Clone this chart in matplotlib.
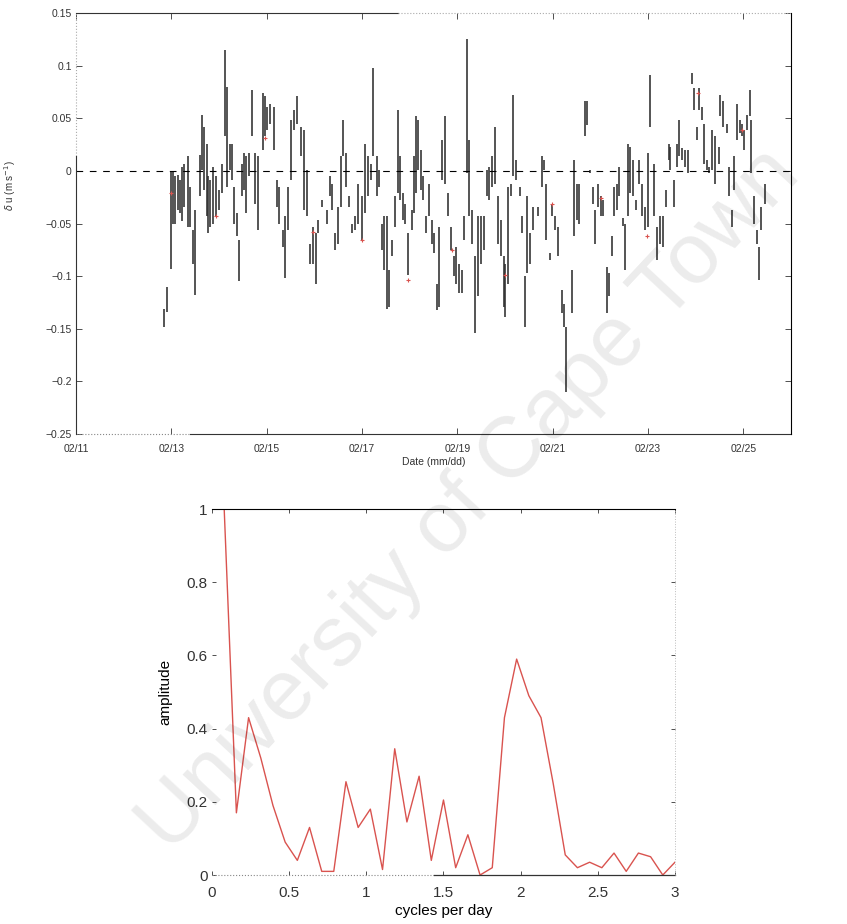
import matplotlib
matplotlib.use("Agg")
import matplotlib.pyplot as plt
import numpy as np

plt.rcParams['font.family'] = ['Liberation Sans', 'DejaVu Sans']

# --- current anomaly bursts: time (day of February), low and high of each burst (m/s)
burst_day = [12.85, 12.90, 12.99, 13.03, 13.08, 13.13, 13.18, 13.23, 13.27, 13.34,
             13.39, 13.45, 13.50, 13.60, 13.65, 13.69, 13.74, 13.78, 13.82, 13.88,
             13.94, 14.00, 14.06, 14.12, 14.17, 14.23, 14.27, 14.31, 14.37, 14.42,
             14.48, 14.52, 14.57, 14.62, 14.69, 14.75, 14.82, 14.92, 14.96, 15.01,
             15.07, 15.15, 15.21, 15.26, 15.34, 15.38, 15.44, 15.52, 15.58, 15.64,
             15.73, 15.78, 15.84, 15.91, 15.98, 16.03, 16.08, 16.17, 16.26, 16.33,
             16.38, 16.43, 16.50, 16.56, 16.61, 16.66, 16.72, 16.78, 16.85, 16.92,
             16.99, 17.06, 17.13, 17.18,
             17.24, 17.31, 17.36, 17.41, 17.47, 17.52, 17.57, 17.64, 17.69, 17.75,
             17.80, 17.85, 17.90, 17.97, 18.04, 18.10, 18.13, 18.18, 18.24, 18.29,
             18.34, 18.41, 18.46, 18.52, 18.57, 18.62, 18.67, 18.74, 18.81, 18.87,
             18.92, 18.97, 19.04, 19.09, 19.15, 19.20, 19.24, 19.30, 19.37, 19.44,
             19.50, 19.55, 19.62, 19.67, 19.72, 19.78, 19.86, 19.91, 19.97, 20.01,
             20.07, 20.12, 20.17, 20.24, 20.31, 20.36, 20.42, 20.47, 20.52, 20.59,
             20.69, 20.77, 20.82, 20.87, 20.94, 20.99, 21.05, 21.11, 21.19, 21.24,
             21.29, 21.40, 21.45, 21.50, 21.55,
             21.68, 21.73, 21.78, 21.85, 21.89, 21.96, 22.01, 22.06, 22.13, 22.19,
             22.24, 22.29, 22.34, 22.40, 22.47, 22.52, 22.57, 22.62, 22.68, 22.75,
             22.82, 22.87, 22.94, 23.01, 23.04, 23.13, 23.18, 23.25, 23.31, 23.37,
             23.43, 23.46, 23.55, 23.60, 23.65, 23.71, 23.78, 23.83, 23.93, 23.97,
             24.02, 24.07, 24.13, 24.17, 24.23, 24.29, 24.34, 24.41, 24.48, 24.52,
             24.58, 24.65, 24.70, 24.76, 24.81, 24.86, 24.92, 24.97, 25.01, 25.07,
             25.13, 25.17, 25.22, 25.28, 25.33, 25.38, 25.45]

burst_hi = [-0.131, -0.110, -0.001, -0.001, -0.005, -0.004, -0.009, 0.004, 0.007, 0.014,
            -0.015, -0.056, -0.037, 0.015, 0.053, 0.042, 0.026, -0.005, -0.009, 0.004,
            -0.005, -0.018, 0.007, 0.115, 0.080, 0.026, 0.026, -0.015, -0.040, -0.066,
            0.007, 0.017, 0.014, 0.017, 0.077, 0.017, 0.014, 0.074, 0.071, 0.061,
            0.064, 0.061, -0.009, -0.015, -0.056, -0.043, -0.015, 0.048, 0.058, 0.071,
            0.042, 0.039, 0.001, -0.069, -0.053, -0.059, -0.047, -0.028, -0.037, -0.005,
            -0.012, -0.059, -0.034, 0.014, 0.048, 0.017, -0.024, -0.050, -0.043, -0.012,
            -0.024, 0.026, 0.014, 0.007,
            0.098, 0.014, 0.001, -0.050, -0.043, -0.043, -0.094, -0.066, -0.024, 0.058,
            0.014, -0.021, -0.031, -0.059, -0.037, 0.014, 0.052, 0.048, 0.020, -0.005,
            -0.043, -0.012, -0.047, -0.059, -0.107, -0.053, 0.029, 0.052, -0.021, -0.053,
            -0.081, -0.072, -0.088, -0.094, -0.043, 0.125, 0.029, -0.037, -0.081, -0.043,
            -0.043, -0.043, 0.001, 0.004, 0.014, 0.042, -0.024, -0.047, -0.081, -0.088,
            -0.015, -0.012, 0.072, 0.010, -0.015, -0.043, -0.100, -0.024, -0.059, -0.034,
            -0.034, 0.014, 0.010, -0.012, -0.078, -0.031, -0.043, -0.053, -0.113, -0.126,
            -0.148, -0.094, 0.010, -0.012, -0.012,
            0.066, 0.066, 0.001, -0.015, -0.037, -0.012, -0.024, -0.028, -0.091, -0.097,
            -0.062, -0.015, -0.012, 0.004, -0.045, -0.050, 0.026, 0.023, 0.010, -0.028,
            0.010, -0.012, -0.034, 0.017, 0.091, 0.007, -0.053, -0.043, -0.043, -0.018,
            0.026, 0.023, -0.009, 0.026, 0.048, 0.022, 0.020, 0.020, 0.093, 0.079,
            0.042, 0.079, 0.061, 0.045, 0.010, 0.004, 0.039, 0.033, 0.023, 0.072,
            0.066, 0.045, 0.004, -0.037, 0.014, 0.064, 0.048, 0.045, 0.039, 0.053,
            0.077, 0.048, -0.024, -0.056, -0.072, -0.034, -0.012]

burst_lo = [-0.148, -0.134, -0.093, -0.050, -0.050, -0.037, -0.040, -0.048, -0.034, -0.053,
            -0.053, -0.088, -0.118, -0.024, 0.001, -0.018, -0.043, -0.059, -0.053, -0.050,
            -0.043, -0.037, -0.021, 0.033, -0.015, 0.001, -0.009, -0.050, -0.062, -0.105,
            -0.024, -0.018, -0.040, -0.005, 0.033, -0.031, -0.056, 0.020, 0.033, 0.039,
            0.045, 0.020, -0.034, -0.050, -0.072, -0.102, -0.056, -0.009, 0.039, 0.045,
            0.014, -0.037, -0.043, -0.088, -0.088, -0.107, -0.059, -0.034, -0.050, -0.024,
            -0.037, -0.075, -0.069, -0.034, 0.014, -0.015, -0.034, -0.059, -0.056, -0.050,
            -0.066, -0.040, -0.024, -0.009,
            0.014, -0.024, -0.015, -0.075, -0.094, -0.131, -0.129, -0.081, -0.053, -0.021,
            -0.028, -0.047, -0.050, -0.099, -0.056, -0.040, -0.021, 0.001, -0.018, -0.028,
            -0.059, -0.043, -0.069, -0.078, -0.132, -0.129, -0.009, -0.012, -0.043, -0.075,
            -0.100, -0.107, -0.116, -0.116, -0.066, -0.002, -0.043, -0.069, -0.154, -0.119,
            -0.088, -0.075, -0.024, -0.028, -0.015, -0.012, -0.069, -0.081, -0.129, -0.139,
            -0.107, -0.024, -0.005, -0.009, -0.024, -0.059, -0.148, -0.097, -0.088, -0.056,
            -0.043, -0.015, 0.001, -0.066, -0.085, -0.043, -0.056, -0.081, -0.135, -0.148,
            -0.210, -0.135, -0.062, -0.047, -0.050,
            0.033, 0.044, -0.002, -0.031, -0.069, -0.034, -0.043, -0.043, -0.135, -0.119,
            -0.081, -0.043, -0.037, -0.024, -0.052, -0.094, -0.043, -0.021, -0.024, -0.037,
            -0.012, -0.043, -0.056, -0.053, 0.042, -0.043, -0.085, -0.069, -0.072, -0.034,
            0.010, 0.001, -0.034, 0.004, 0.014, 0.010, 0.004, -0.002, 0.083, 0.058,
            0.029, 0.058, 0.048, 0.007, 0.001, -0.002, 0.001, -0.012, 0.007, 0.052,
            0.042, 0.036, -0.024, -0.053, -0.018, 0.029, 0.036, 0.033, 0.020, 0.039,
            0.052, -0.002, -0.050, -0.069, -0.104, -0.056, -0.031]

# daily mean values (red marks)
daily_day = [12.99, 13.94, 14.97, 15.98, 16.99, 17.97, 18.88, 20.00, 20.98,
             22.01, 22.97, 24.04, 24.97]
daily_val = [-0.021, -0.043, 0.031, -0.058, -0.066, -0.104, -0.075, -0.099, -0.031,
             -0.026, -0.062, 0.074, 0.039]

date_ticks = [11, 13, 15, 17, 19, 21, 23, 25]
date_labels = ['02/11', '02/13', '02/15', '02/17', '02/19', '02/21', '02/23', '02/25']
du_ticks = [-0.25, -0.2, -0.15, -0.1, -0.05, 0, 0.05, 0.1, 0.15]
du_labels = ['\u22120.25', '\u22120.2', '\u22120.15', '\u22120.1', '\u22120.05',
             '0', '0.05', '0.1', '0.15']

# --- amplitude spectrum
freq = [0.079, 0.158, 0.237, 0.316, 0.395, 0.474, 0.553, 0.632, 0.711, 0.789,
        0.868, 0.947, 1.026, 1.105, 1.184, 1.263, 1.342, 1.421, 1.500, 1.579,
        1.658, 1.737, 1.816, 1.895, 1.974, 2.053, 2.132, 2.211, 2.289, 2.368,
        2.447, 2.526, 2.605, 2.684, 2.763, 2.842, 2.921, 3.000]
amp = [1.00, 0.17, 0.43, 0.32, 0.19, 0.09, 0.04, 0.13, 0.01, 0.01,
       0.255, 0.13, 0.18, 0.015, 0.345, 0.145, 0.27, 0.04, 0.205, 0.02,
       0.11, 0.0, 0.02, 0.43, 0.59, 0.49, 0.43, 0.25, 0.055, 0.02,
       0.035, 0.02, 0.06, 0.01, 0.06, 0.05, 0.0, 0.035]
freq_ticks = [0, 0.5, 1, 1.5, 2, 2.5, 3]
freq_labels = ['0', '0.5', '1', '1.5', '2', '2.5', '3']
amp_ticks = [0, 0.2, 0.4, 0.6, 0.8, 1]
amp_labels = ['0', '0.2', '0.4', '0.6', '0.8', '1']

fig = plt.figure(figsize=(8.47, 9.24), dpi=100)

# ---------------- top: velocity anomaly time series
ax1 = fig.add_axes([0.0897, 0.5303, 0.8442, 0.4556])
ax1.vlines(burst_day, burst_lo, burst_hi, color='#2e2e2e', lw=1.15)
ax1.plot(daily_day, daily_val, ls='none', marker='+', ms=3.5, mew=0.8, color='#d9534f')
ax1.axhline(0, color='k', lw=0.8, ls=(0, (6, 6)))
ax1.set_xlim(11, 26)
ax1.set_ylim(-0.25, 0.15)
ax1.set_xticks(date_ticks)
ax1.set_xticklabels(date_labels)
ax1.set_yticks(du_ticks)
ax1.set_yticklabels(du_labels)
ax1.tick_params(direction='in', length=4, width=0.6, top=True, right=True,
                labelsize=7.5, colors='#333333')
ax1.tick_params(axis='x', pad=7)
ax1.tick_params(axis='y', pad=3)
ax1.set_xlabel('Date (mm/dd)', fontsize=7.5, labelpad=2, color='#333333')
ax1.set_ylabel(r'$\delta$ u (m s$^{-1}$)', fontsize=7, color='#333333')
ax1.yaxis.set_label_coords(-0.081, 0.59)

# spines: partly faded, as in the printed figure
for s in ['top', 'bottom', 'left']:
    ax1.spines[s].set_visible(False)
ax1.spines['right'].set_linewidth(0.8)
kw = dict(transform=ax1.transAxes, clip_on=False)
ax1.plot([0, 0.45], [1, 1], color='#333333', lw=0.8, **kw)
ax1.plot([0.45, 1], [1, 1], color='#aaaaaa', lw=0.8, ls=':', **kw)
ax1.plot([0, 0.16], [0, 0], color='#888888', lw=0.8, ls=':', **kw)
ax1.plot([0.16, 1], [0, 0], color='#333333', lw=0.8, **kw)
ax1.plot([0, 0], [0.66, 1], color='#aaaaaa', lw=0.8, ls=':', **kw)
ax1.plot([0, 0], [0, 0.66], color='#333333', lw=0.8, **kw)

# ---------------- bottom: amplitude spectrum
ax2 = fig.add_axes([0.2503, 0.0530, 0.5466, 0.3961])
ax2.plot(freq, amp, color='#d9534f', lw=1.0)
ax2.set_xlim(0, 3)
ax2.set_ylim(0, 1)
ax2.set_xticks(freq_ticks)
ax2.set_xticklabels(freq_labels)
ax2.set_yticks(amp_ticks)
ax2.set_yticklabels(amp_labels)
ax2.tick_params(direction='in', length=3, width=0.6, top=True, right=True,
                labelsize=11, colors='#333333')
ax2.tick_params(axis='x', pad=8)
ax2.tick_params(axis='y', pad=3)
ax2.set_xlabel('cycles per day', fontsize=11, labelpad=3)
ax2.set_ylabel('amplitude', fontsize=11, labelpad=10)

for s in ['bottom', 'left', 'right']:
    ax2.spines[s].set_visible(False)
ax2.spines['top'].set_linewidth(0.8)
kw2 = dict(transform=ax2.transAxes, clip_on=False)
ax2.plot([0, 0.48], [0, 0], color='#888888', lw=0.8, ls=':', **kw2)
ax2.plot([0.48, 1], [0, 0], color='#333333', lw=0.9, **kw2)
ax2.plot([1, 1], [0, 1], color='#bbbbbb', lw=0.7, ls=':', **kw2)

# watermark
fig.text(0.555, 0.458, 'University of Cape Town', rotation=47, fontsize=62,
         color='black', alpha=0.08, ha='center', va='center')

fig.savefig('out.png', dpi=100)
